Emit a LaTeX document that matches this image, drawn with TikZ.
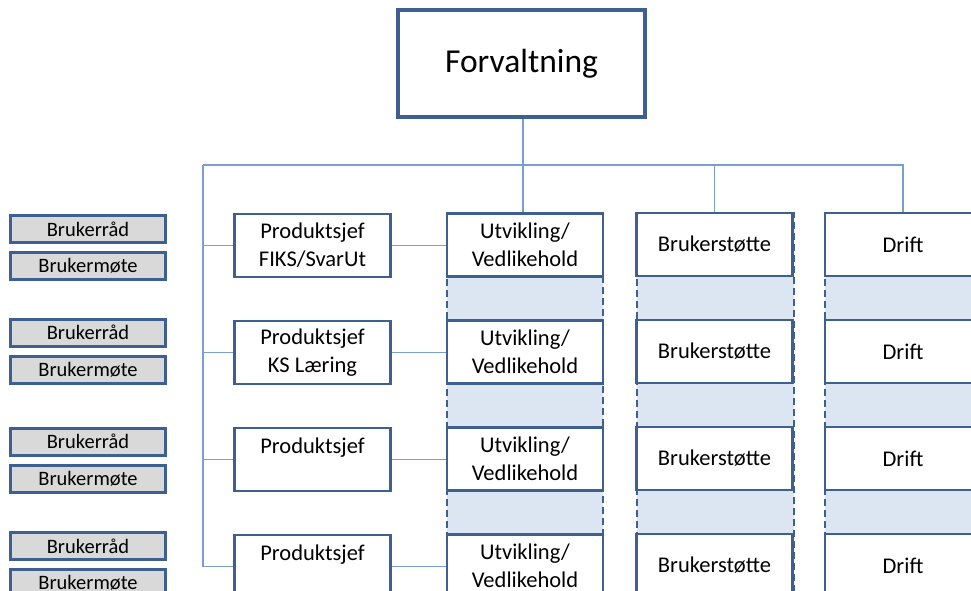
\documentclass[tikz,border=0pt]{standalone}
\usepackage{fontspec}
\setmainfont{Carlito}
\definecolor{boxblue}{RGB}{62,96,145}
\definecolor{linkblue}{RGB}{120,158,210}
\definecolor{shadeblue}{RGB}{220,230,242}
\definecolor{boxgrey}{RGB}{217,217,217}
\tikzset{
	orgbox/.style={draw=boxblue, line width=2.8pt, fill=white, rectangle, inner sep=0pt,
		minimum width=156pt, minimum height=63pt, align=center,
		font=\fontsize{22.5}{28}\selectfont},
	userbox/.style={draw=boxblue, line width=3pt, fill=boxgrey, rectangle, inner sep=0pt,
		minimum width=155pt, minimum height=27pt,
		font=\fontsize{20.5}{22}\selectfont},
	link/.style={draw=linkblue, line width=1.4pt},
	shadecol/.style={draw=boxblue, line width=2.8pt, fill=shadeblue, dash pattern=on 7pt off 4pt}
}

\begin{document}
\begin{tikzpicture}[x=1pt, y=-1pt]
			%%%%% START %%%%%
			\useasboundingbox (0, 0) rectangle (971, 591);
			\clip (0, 0) rectangle (971, 591);
			
			% shaded columns behind the boxes
			\draw[shadecol] (447, 213) rectangle (603, 610);
			\draw[shadecol] (637, 213) rectangle (794, 610);
			\draw[shadecol] (825, 213) rectangle (981, 610);
			
			\node[orgbox, line width=3.6pt, minimum width=247pt, minimum height=107pt,
				font=\fontsize{33.5}{38}\selectfont] (forv) at (521.5, 63.5) {Forvaltning};
			
			\node[orgbox] (prod1) at (312.5, 245.5) {Produktsjef\\FIKS/SvarUt};
			\node[orgbox] (prod2) at (312.5, 352.5) {Produktsjef\\KS Læring};
			\node[orgbox] (prod3) at (312.5, 459.5) {Produktsjef\\\phantom{X}};
			\node[orgbox] (prod4) at (312.5, 566.5) {Produktsjef\\\phantom{X}};
			
			\node[orgbox] (utv1) at (525, 245) {Utvikling/\\Vedlikehold};
			\node[orgbox] (utv2) at (525, 352) {Utvikling/\\Vedlikehold};
			\node[orgbox] (utv3) at (525, 459) {Utvikling/\\Vedlikehold};
			\node[orgbox] (utv4) at (525, 566) {Utvikling/\\Vedlikehold};
			
			\node[orgbox] (bst1) at (714.5, 244.5) {Brukerstøtte};
			\node[orgbox] (bst2) at (714.5, 351.5) {Brukerstøtte};
			\node[orgbox] (bst3) at (714.5, 458.5) {Brukerstøtte};
			\node[orgbox] (bst4) at (714.5, 565.5) {Brukerstøtte};
			
			\node[orgbox] (drift1) at (903, 244.5) {Drift};
			\node[orgbox] (drift2) at (903, 351.5) {Drift};
			\node[orgbox] (drift3) at (903, 458.5) {Drift};
			\node[orgbox] (drift4) at (903, 565.5) {Drift};
			
			\node[userbox] (raad1) at (88, 229) {Brukerråd};
			\node[userbox] (mote1) at (88, 266) {Brukermøte};
			\node[userbox] (raad2) at (88, 332.5) {Brukerråd};
			\node[userbox] (mote2) at (88, 369.5) {Brukermøte};
			\node[userbox] (raad3) at (88, 441.5) {Brukerråd};
			\node[userbox] (mote3) at (88, 478.5) {Brukermøte};
			\node[userbox] (raad4) at (88, 546) {Brukerråd};
			\node[userbox] (mote4) at (88, 583) {Brukermøte};
			
			% connectors
			\coordinate (bus) at (203, 165);
			\coordinate (drop) at (523, 165);
			\draw[link] (forv.south -| drop) -- (drop |- utv1.north);
			\draw[link] (bus) -| (bst1.north);
			\draw[link] (drop) -| (drift1.north);
			\draw[link] (bus) -- (bus |- prod4.west) -- (prod4.west);
			\draw[link] (bus |- prod1.west) -- (prod1.west);
			\draw[link] (bus |- prod2.west) -- (prod2.west);
			\draw[link] (bus |- prod3.west) -- (prod3.west);
			
			\draw[link] (prod1.east) -- (prod1.east -| utv1.west);
			\draw[link] (prod2.east) -- (prod2.east -| utv2.west);
			\draw[link] (prod3.east) -- (prod3.east -| utv3.west);
			\draw[link] (prod4.east) -- (prod4.east -| utv4.west);
			
			%%%%% END %%%%%
\end{tikzpicture}
\end{document}
